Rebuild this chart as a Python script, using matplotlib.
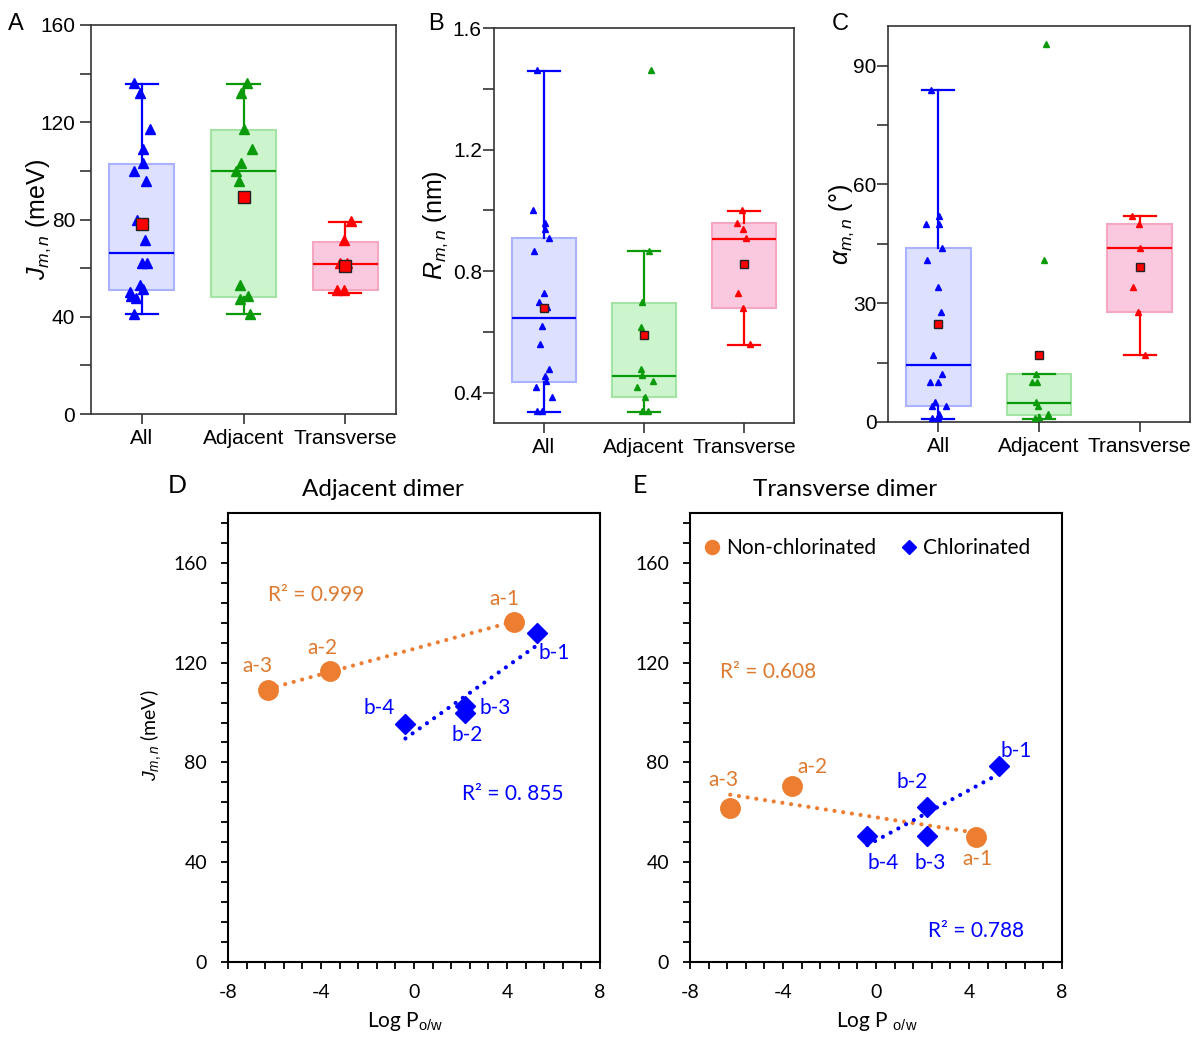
import matplotlib
matplotlib.use('Agg')
import matplotlib.pyplot as plt
from matplotlib.ticker import MultipleLocator
import numpy as np

plt.rcParams['font.family'] = ['Liberation Sans', 'DejaVu Sans']
plt.rcParams['mathtext.fontset'] = 'custom'
plt.rcParams['mathtext.rm'] = 'Liberation Sans'
plt.rcParams['mathtext.it'] = 'Liberation Sans:italic'
plt.rcParams['axes.unicode_minus'] = False

# ---------------- data ----------------
groups = ['All', 'Adjacent', 'Transverse']

# panel A: J (meV)
j_all = [136.3, 132.2, 117.1, 109.2, 103.2, 100.1, 96.0, 79.6, 71.4, 62.3, 62.3,
         53.2, 51.4, 50.3, 48.4, 47.7, 41.2]
j_adj = [136.3, 132.2, 117.1, 109.2, 103.2, 100.1, 96.0, 53.2, 48.4, 47.4, 41.2]
j_tra = [79.3, 71.4, 62.1, 62.1, 50.8, 50.8]
j_q1 = [50.8, 48.1, 50.8]
j_med = [66.4, 99.9, 61.9]
j_q3 = [102.9, 116.8, 70.8]
j_lo = [41.0, 41.0, 49.7]
j_hi = [135.9, 135.9, 78.8]
j_mean = [78.2, 89.2, 60.7]

# panel B: R (nm)
r_all = [1.462, 1.0, 0.958, 0.939, 0.909, 0.867, 0.727, 0.699, 0.682, 0.619, 0.559,
         0.478, 0.456, 0.437, 0.418, 0.386, 0.341, 0.341]
r_adj = [1.462, 0.867, 0.699, 0.617, 0.478, 0.457, 0.437, 0.418, 0.386, 0.341, 0.341]
r_tra = [1.0, 0.959, 0.939, 0.908, 0.727, 0.680, 0.559]
r_q1 = [0.435, 0.386, 0.678]
r_med = [0.646, 0.454, 0.906]
r_q3 = [0.908, 0.696, 0.958]
r_lo = [0.336, 0.336, 0.556]
r_hi = [1.460, 0.866, 0.997]
r_mean = [0.680, 0.590, 0.822]

# panel C: alpha (deg)
a_all = [83.9, 51.9, 49.9, 49.9, 44.0, 41.0, 34.0, 27.9, 17.0, 12.0, 10.0, 10.0,
         5.0, 4.1, 4.1, 2.1, 1.1, 1.1]
a_adj = [95.5, 41.0, 12.0, 10.0, 10.0, 5.0, 4.1, 2.1, 1.3, 1.1]
a_tra = [51.9, 49.9, 44.0, 34.0, 27.9, 17.0]
a_q1 = [3.96, 1.85, 27.9]
a_med = [14.5, 4.9, 43.9]
a_q3 = [43.9, 12.0, 49.9]
a_lo = [0.84, 0.84, 16.8]
a_hi = [83.8, 12.0, 51.9]
a_mean = [24.8, 16.8, 39.1]

# horizontal jitter of the individual points
jit_j = [[-0.076, -0.020, 0.079, 0.007, 0.007, -0.076, 0.039, -0.046, 0.033, -0.003,
          0.046, -0.020, 0.007, -0.118, -0.102, -0.059, -0.076],
         [0.033, -0.023, 0.003, 0.082, -0.023, -0.072, -0.046, -0.033, 0.043, -0.033, 0.066],
         [0.056, -0.013, -0.049, 0.016, -0.082, -0.013]]
jit_r = [[-0.070, -0.111, 0.010, 0.010, 0.050, -0.101, 0.003, -0.050, 0.034, -0.023,
          -0.044, 0.050, 0.010, 0.017, -0.077, 0.084, -0.070, -0.017],
         [0.074, 0.047, -0.020, -0.027, -0.030, -0.017, 0.090, -0.067, 0.013, -0.023, 0.040],
         [-0.017, -0.074, -0.007, 0.017, -0.057, -0.010, 0.060]]
jit_a = [[-0.073, 0.007, -0.126, 0.007, 0.040, -0.110, -0.003, 0.027, -0.050, 0.040,
          -0.083, 0.0, -0.033, -0.060, 0.073, 0.007, -0.066, 0.0],
         [0.073, 0.050, -0.033, -0.066, -0.020, -0.027, -0.010, 0.090, 0.0, -0.040],
         [-0.076, -0.007, 0.0, -0.066, -0.017, 0.056]]

# panels D, E: Log P vs J
names_a = ['a-1', 'a-2', 'a-3']
names_b = ['b-1', 'b-2', 'b-3', 'b-4']
logp_a = [4.30, -3.63, -6.27]
logp_b = [5.30, 2.18, 2.21, -0.37]
jadj_a = [136.4, 116.8, 109.1]
jadj_b = [131.8, 99.8, 102.7, 95.4]
jtra_a = [50.0, 70.4, 61.7]
jtra_b = [78.7, 62.0, 50.4, 50.7]

# ---------------- style ----------------
cols = ['#0000ff', '#0a9a0a', '#ff0000']
faces = ['#dde0ff', '#cdf5cd', '#fbc9df']
edges = ['#aab2ff', '#a3e3a3', '#f5a6c0']
orange = '#ed7d31'
orange_txt = '#dd7a30'
blue = '#0000ff'

W, H = 1194, 1038
fig = plt.figure(figsize=(W / 100, H / 100), dpi=100)


def box_axes(rect, pts, jit, q1, med, q3, lo, hi, mean, ms, mean_ms, ypad):
    ax = fig.add_axes(rect)
    pos = [1, 2, 3]
    stats = []
    for i in range(3):
        stats.append(dict(med=med[i], q1=q1[i], q3=q3[i], whislo=lo[i], whishi=hi[i], fliers=[]))
    bp = ax.bxp(stats, positions=pos, widths=0.64, capwidths=0.32, patch_artist=True,
                showfliers=False, manage_ticks=False)
    for i in range(3):
        bp['boxes'][i].set(facecolor=faces[i], edgecolor=edges[i], linewidth=1.5, zorder=1)
        bp['medians'][i].set(color=cols[i], linewidth=1.6, zorder=2)
        for k in (2 * i, 2 * i + 1):
            bp['whiskers'][k].set(color=cols[i], linewidth=1.6)
            bp['caps'][k].set(color=cols[i], linewidth=1.6)
    for i in range(3):
        x = np.array(jit[i]) + pos[i]
        ax.plot(x, pts[i], '^', color=cols[i], ms=ms, mec=cols[i], ls='none', zorder=3)
    ax.plot(pos, mean, 's', color='#ff0000', mec='#222222', mew=1.0, ms=mean_ms,
            ls='none', zorder=4)
    ax.set_xlim(0.5, 3.5)
    ax.set_xticks(pos)
    ax.set_xticklabels(groups, fontsize=15)
    for s in ax.spines.values():
        s.set_linewidth(1.2)
        s.set_color('#333333')
    ax.tick_params(axis='both', which='both', direction='out', width=1.2, color='#333333',
                   labelsize=15, right=False, top=False)
    ax.tick_params(axis='y', which='both', length=8, pad=ypad)
    ax.tick_params(axis='x', length=7)
    return ax


def frac(l, t, r, b):
    return [l / W, 1 - b / H, (r - l) / W, (b - t) / H]


# A
axA = box_axes(frac(91, 25, 396, 414), [j_all, j_adj, j_tra], jit_j,
               j_q1, j_med, j_q3, j_lo, j_hi, j_mean, 6.5, 9, 3.5)
axA.set_ylim(0, 160)
axA.yaxis.set_major_locator(MultipleLocator(40))
axA.yaxis.set_minor_locator(MultipleLocator(20))
axA.set_ylabel(r'$J_{m,n}$ (meV)', fontsize=18)
axA.yaxis.set_label_coords(-0.125, 0.5)

# B
axB = box_axes(frac(494, 28, 794, 423), [r_all, r_adj, r_tra], jit_r,
               r_q1, r_med, r_q3, r_lo, r_hi, r_mean, 4.8, 6, 0.8)
axB.set_ylim(0.3, 1.6)
axB.yaxis.set_major_locator(MultipleLocator(0.4))
axB.yaxis.set_minor_locator(MultipleLocator(0.2))
axB.set_yticks([0.4, 0.8, 1.2, 1.6])
axB.set_ylabel(r'$R_{m,n}$ (nm)', fontsize=18)
axB.yaxis.set_label_coords(-0.147, 0.5)

# C
axC = box_axes(frac(888, 26, 1190, 422), [a_all, a_adj, a_tra], jit_a,
               a_q1, a_med, a_q3, a_lo, a_hi, a_mean, 4.5, 6, 0.3)
axC.set_ylim(0, 100)
axC.yaxis.set_major_locator(MultipleLocator(30))
axC.yaxis.set_minor_locator(MultipleLocator(15))
axC.set_ylabel(r'$\alpha_{m,n}$ (°)', fontsize=18)
axC.yaxis.set_label_coords(-0.105, 0.5)

for lab, x in (('A', 8), ('B', 428), ('C', 832)):
    fig.text(x / W, 1 - 13 / H, lab, fontsize=17, va='top', ha='left',
             family=['Liberation Sans'])

# ---------------- D, E ----------------
sc_font = ['Lato', 'DejaVu Sans']


def scatter_axes(rect, ya, yb, title):
    ax = fig.add_axes(rect)
    for xs, ys, c in ((logp_a, ya, orange), (logp_b, yb, blue)):
        k, b0 = np.polyfit(xs, ys, 1)
        xx = np.array([min(xs), max(xs)])
        ax.plot(xx, k * xx + b0, color=c, lw=3.0, ls=(0, (0.01, 2.1)),
                dash_capstyle='round', zorder=2)
    ax.plot(logp_a, ya, 'o', color=orange, ms=14, ls='none', zorder=3,
            label='Non-chlorinated')
    ax.plot(logp_b, yb, 'D', color=blue, ms=10, ls='none', zorder=3,
            label='Chlorinated')
    ax.set_xlim(-8, 8)
    ax.set_ylim(0, 180)
    ax.xaxis.set_major_locator(MultipleLocator(4))
    ax.xaxis.set_minor_locator(MultipleLocator(0.8))
    ax.yaxis.set_major_locator(MultipleLocator(40))
    ax.yaxis.set_minor_locator(MultipleLocator(8))
    ax.tick_params(axis='both', which='both', direction='out', length=5, width=1.3,
                   top=False, right=False, labelsize=14)
    ax.tick_params(axis='x', which='major', pad=11)
    ax.tick_params(axis='y', which='major', pad=10)
    for t in ax.get_xticklabels() + ax.get_yticklabels():
        t.set_family(sc_font)
    for s in ax.spines.values():
        s.set_linewidth(1.5)
    ax.set_title(title, fontsize=17.5, family=sc_font, pad=12, x=0.417)
    return ax


axD = scatter_axes(frac(228, 513, 600, 962), jadj_a, jadj_b, 'Adjacent dimer')
axE = scatter_axes(frac(690, 513, 1062, 962), jtra_a, jtra_b, 'Transverse dimer')

txt = dict(fontsize=15, family=sc_font, ha='center', va='center')
# D labels
for n, p in zip(names_a, [(3.9, 145.5), (-3.95, 126.0), (-6.74, 118.5)]):
    axD.text(p[0], p[1], n, color=orange_txt, **txt)
for n, p in zip(names_b, [(6.05, 124.0), (2.3, 91.0), (3.5, 102.0), (-1.5, 102.0)]):
    axD.text(p[0], p[1], n, color=blue, **txt)
axD.text(-6.3, 147.3, 'R² = 0.999', color=orange_txt, fontsize=15, family=sc_font,
         ha='left', va='center')
axD.text(2.08, 67.3, 'R² = 0. 855', color=blue, fontsize=15, family=sc_font,
         ha='left', va='center')

# E labels
for n, p in zip(names_a, [(4.35, 41.3), (-2.74, 78.0), (-6.55, 72.9)]):
    axE.text(p[0], p[1], n, color=orange_txt, **txt)
for n, p in zip(names_b, [(6.05, 84.5), (1.54, 72.2), (2.33, 39.6), (0.29, 39.6)]):
    axE.text(p[0], p[1], n, color=blue, **txt)
axE.text(-6.7, 116.4, 'R² = 0.608', color=orange_txt, fontsize=15, family=sc_font,
         ha='left', va='center')
axE.text(2.23, 12.5, 'R² = 0.788', color=blue, fontsize=15, family=sc_font,
         ha='left', va='center')

leg = axE.legend(loc='upper left', bbox_to_anchor=(-0.02, 0.985), ncol=2, frameon=False,
                 markerscale=0.72, handletextpad=0.2, columnspacing=1.05,
                 handlelength=1.0, prop={'family': sc_font, 'size': 15})

axD.set_ylabel(r'$J_{m,n}$ (meV)', fontsize=14, family=sc_font)
axD.yaxis.set_label_coords(-0.175, 0.505)
axD.set_xlabel(r'Log P$_{\mathrm{o/w}}$', fontsize=15, family=sc_font)
axD.xaxis.set_label_coords(0.476, -0.108)
axE.set_xlabel(r'Log P $_{\mathrm{o/w}}$', fontsize=15, family=sc_font)
axE.xaxis.set_label_coords(0.503, -0.108)

fig.text(168 / W, 1 - 474 / H, 'D', fontsize=18, family=sc_font, va='top')
fig.text(633 / W, 1 - 474 / H, 'E', fontsize=18, family=sc_font, va='top')

fig.savefig('out.png', dpi=100)
